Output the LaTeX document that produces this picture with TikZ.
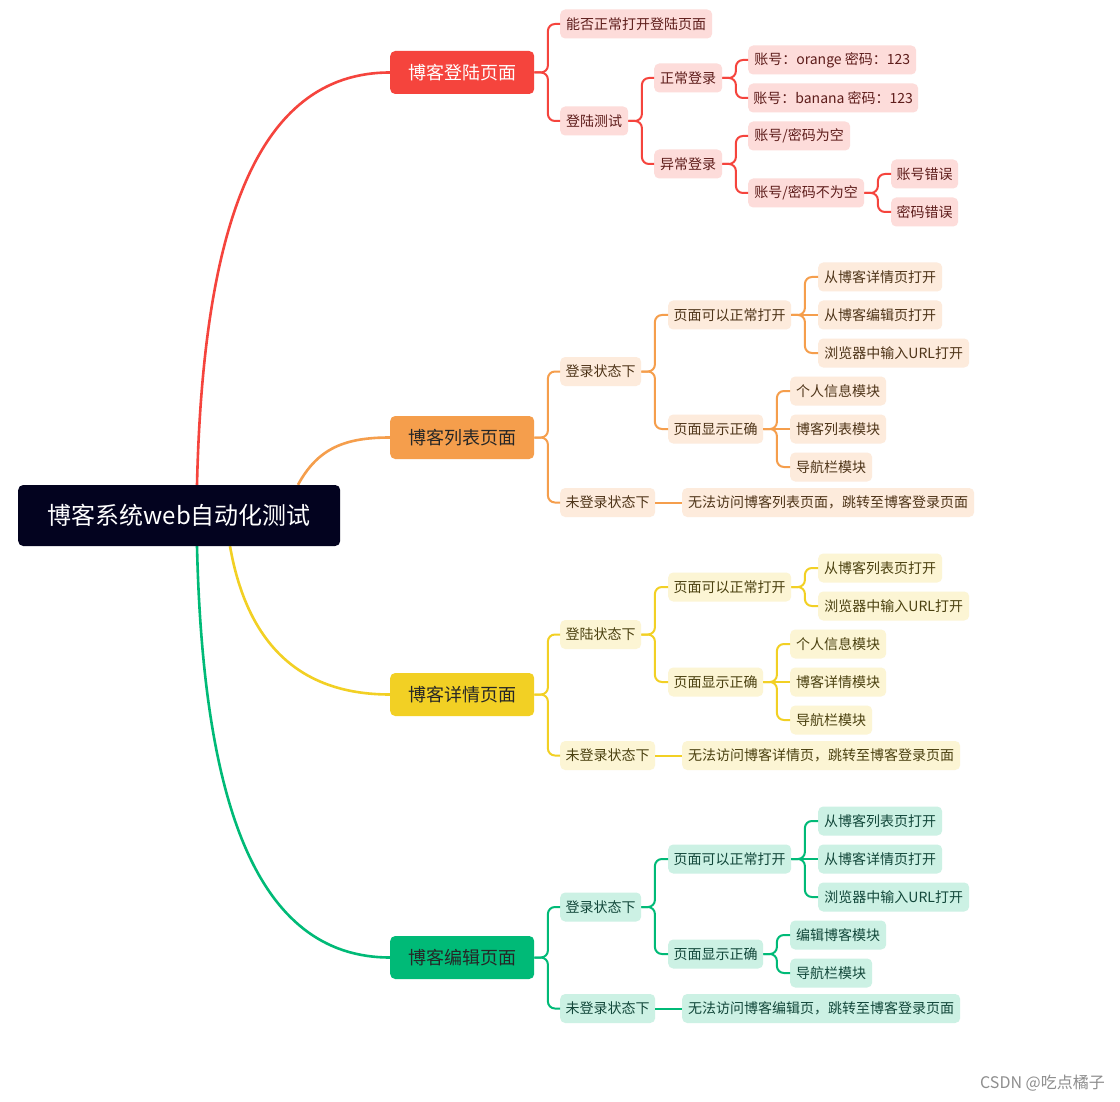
\documentclass[tikz,border=0pt]{standalone}
\usepackage{fontspec}
\usetikzlibrary{backgrounds}
\setmainfont{Noto Sans CJK SC}
\definecolor{rootc}{HTML}{03031F}
\definecolor{redc}{HTML}{F5443D}
\definecolor{orgc}{HTML}{F59E4C}
\definecolor{yelc}{HTML}{F2D024}
\definecolor{grnc}{HTML}{00BA77}
\definecolor{redl}{HTML}{FDDCDA}
\definecolor{orgl}{HTML}{FDEBDC}
\definecolor{yell}{HTML}{FCF5D4}
\definecolor{grnl}{HTML}{CCF1E4}
\definecolor{redt}{HTML}{5E1D1B}
\definecolor{orgt}{HTML}{4E3418}
\definecolor{yelt}{HTML}{4B4110}
\definecolor{grnt}{HTML}{12473A}
\definecolor{wmk}{HTML}{8E8E8E}
\newcommand\nd[5]{\node[#1,minimum width=#4pt] (#2) at (#3) {#5};}
\newcommand\br[3]{\draw[#1] (#2.east) -- ([xshift=13.5pt]#2.east) |- (#3.west);}
\newcommand\bs[3]{\draw[#1] (#2.east) -- (#3.west);}
\begin{document}
\begin{tikzpicture}[x=1pt,y=-1pt,
  leaf/.style={rounded corners=5pt, inner sep=0pt, minimum height=29pt, anchor=west, font=\fontsize{14pt}{16pt}\selectfont},
  rl/.style={leaf, fill=redl, text=redt},
  ol/.style={leaf, fill=orgl, text=orgt},
  yl/.style={leaf, fill=yell, text=yelt},
  gl/.style={leaf, fill=grnl, text=grnt},
  lone/.style={rounded corners=5pt, inner sep=0pt, minimum width=144pt, minimum height=43pt, anchor=west, font=\fontsize{18pt}{21pt}\selectfont},
  rc/.style={draw=redc, line width=2pt, rounded corners=7pt},
  oc/.style={draw=orgc, line width=2pt, rounded corners=7pt},
  yc/.style={draw=yelc, line width=2pt, rounded corners=7pt},
  gc/.style={draw=grnc, line width=2pt, rounded corners=7pt},
  curve/.style={line width=2.6pt}]
\useasboundingbox (0,0) rectangle (1120,1102);

% root and level 1
\node[fill=rootc, text=white, rounded corners=5pt, inner sep=0pt, minimum width=322pt, minimum height=61pt, anchor=west, font=\fontsize{24pt}{27pt}\selectfont] (root) at (18,515.5) {博客系统web自动化测试};
\node[lone, fill=redc, text=white] (la) at (390,72.5) {博客登陆页面};
\node[lone, fill=orgc, text=black!85] (lb) at (390,437.5) {博客列表页面};
\node[lone, fill=yelc, text=black!85] (lc) at (390,694.5) {博客详情页面};
\node[lone, fill=grnc, text=black!85] (ld) at (390,957.5) {博客编辑页面};

\begin{scope}[on background layer]
\fill[white] (0,0) rectangle (1120,1102);
\draw[curve, redc] ([xshift=179pt]root.north west) .. controls (203,230) and (255,72.5) .. (la.west);
\draw[curve, orgc] ([xshift=280pt]root.north west) .. controls (318,448) and (345,437.5) .. (lb.west);
\draw[curve, yelc] ([xshift=212pt]root.south west) .. controls (250,660) and (315,694.5) .. (lc.west);
\draw[curve, grnc] ([xshift=179pt]root.south west) .. controls (203,800) and (255,957.5) .. (ld.west);
\end{scope}

% red branch
\nd{rl}{a1}{560,24}{152}{能否正常打开登陆页面}
\nd{rl}{a2}{560,121}{68}{登陆测试}
\nd{rl}{a21}{654,78}{68}{正常登录}
\nd{rl}{a22}{654,164}{68}{异常登录}
\nd{rl}{a211}{748,60}{168}{账号：orange 密码：123}
\nd{rl}{a212}{748,98}{170}{账号：banana 密码：123}
\nd{rl}{a221}{748,136}{102}{账号/密码为空}
\nd{rl}{a222}{748,193}{116}{账号/密码不为空}
\nd{rl}{a2221}{891,174}{67}{账号错误}
\nd{rl}{a2222}{891,212}{67}{密码错误}
\br{rc}{la}{a1} \br{rc}{la}{a2}
\br{rc}{a2}{a21} \br{rc}{a2}{a22}
\br{rc}{a21}{a211} \br{rc}{a21}{a212}
\br{rc}{a22}{a221} \br{rc}{a22}{a222}
\br{rc}{a222}{a2221} \br{rc}{a222}{a2222}

% orange branch
\nd{ol}{b1}{560,371.5}{81}{登录状态下}
\nd{ol}{b2}{560,502.5}{95}{未登录状态下}
\nd{ol}{b11}{668,315}{123}{页面可以正常打开}
\nd{ol}{b12}{668,429}{95}{页面显示正确}
\nd{ol}{b111}{818,277}{124}{从博客详情页打开}
\nd{ol}{b112}{818,315}{124}{从博客编辑页打开}
\nd{ol}{b113}{818,353}{151}{浏览器中输入URL打开}
\nd{ol}{b121}{790,391}{96}{个人信息模块}
\nd{ol}{b122}{790,429}{96}{博客列表模块}
\nd{ol}{b123}{790,467}{82}{导航栏模块}
\nd{ol}{b21}{682,502.5}{292}{无法访问博客列表页面，跳转至博客登录页面}
\br{oc}{lb}{b1} \br{oc}{lb}{b2}
\br{oc}{b1}{b11} \br{oc}{b1}{b12}
\br{oc}{b11}{b111} \bs{oc}{b11}{b112} \br{oc}{b11}{b113}
\br{oc}{b12}{b121} \bs{oc}{b12}{b122} \br{oc}{b12}{b123}
\bs{oc}{b2}{b21}

% yellow branch
\nd{yl}{c1}{560,634.5}{81}{登陆状态下}
\nd{yl}{c2}{560,755.5}{95}{未登录状态下}
\nd{yl}{c11}{668,587}{123}{页面可以正常打开}
\nd{yl}{c12}{668,682}{95}{页面显示正确}
\nd{yl}{c111}{818,568}{124}{从博客列表页打开}
\nd{yl}{c112}{818,606}{151}{浏览器中输入URL打开}
\nd{yl}{c121}{790,644}{96}{个人信息模块}
\nd{yl}{c122}{790,682}{96}{博客详情模块}
\nd{yl}{c123}{790,720}{82}{导航栏模块}
\nd{yl}{c21}{682,755.5}{278}{无法访问博客详情页，跳转至博客登录页面}
\br{yc}{lc}{c1} \br{yc}{lc}{c2}
\br{yc}{c1}{c11} \br{yc}{c1}{c12}
\br{yc}{c11}{c111} \br{yc}{c11}{c112}
\br{yc}{c12}{c121} \bs{yc}{c12}{c122} \br{yc}{c12}{c123}
\bs{yc}{c2}{c21}

% green branch
\nd{gl}{d1}{560,907}{81}{登录状态下}
\nd{gl}{d2}{560,1008.5}{95}{未登录状态下}
\nd{gl}{d11}{668,859}{123}{页面可以正常打开}
\nd{gl}{d12}{668,954}{95}{页面显示正确}
\nd{gl}{d111}{818,821}{124}{从博客列表页打开}
\nd{gl}{d112}{818,859}{124}{从博客详情页打开}
\nd{gl}{d113}{818,897}{151}{浏览器中输入URL打开}
\nd{gl}{d121}{790,935}{96}{编辑博客模块}
\nd{gl}{d122}{790,973}{82}{导航栏模块}
\nd{gl}{d21}{682,1008.5}{278}{无法访问博客编辑页，跳转至博客登录页面}
\br{gc}{ld}{d1} \br{gc}{ld}{d2}
\br{gc}{d1}{d11} \br{gc}{d1}{d12}
\br{gc}{d11}{d111} \bs{gc}{d11}{d112} \br{gc}{d11}{d113}
\br{gc}{d12}{d121} \br{gc}{d12}{d122}
\bs{gc}{d2}{d21}

\node[anchor=east, text=wmk, inner sep=0pt, font=\fontsize{16pt}{18pt}\selectfont] (wm) at (1105,1083) {CSDN @吃点橘子};
\end{tikzpicture}
\end{document}
